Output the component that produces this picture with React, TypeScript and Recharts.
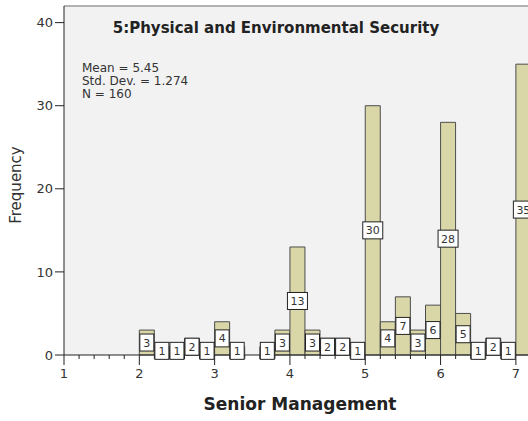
import React from 'react';
import { BarChart, Bar, XAxis, YAxis, CartesianGrid, ReferenceLine, LabelList } from 'recharts';

const binStarts = [
  1.0, 1.2, 1.4, 1.6, 1.8,
  2.0, 2.2, 2.4, 2.6, 2.8,
  3.0, 3.2, 3.4, 3.6, 3.8,
  4.0, 4.2, 4.4, 4.6, 4.8,
  5.0, 5.2, 5.4, 5.6, 5.8,
  6.0, 6.2, 6.4, 6.6, 6.8,
  7.0, 7.2,
];
const frequencies = [
  0, 0, 0, 0, 0,
  3, 1, 1, 2, 1,
  4, 1, 0, 1, 3,
  13, 3, 2, 2, 1,
  30, 4, 7, 3, 6,
  28, 5, 1, 2, 1,
  35, 0,
];
const xTicks = [
  1, 1.2, 1.4, 1.6, 1.8, 2, 2.2, 2.4, 2.6, 2.8, 3, 3.2, 3.4, 3.6, 3.8,
  4, 4.2, 4.4, 4.6, 4.8, 5, 5.2, 5.4, 5.6, 5.8, 6, 6.2, 6.4, 6.6, 6.8, 7, 7.2, 7.4,
];
const yTicks = [0, 10, 20, 30, 40];
const chartTitle = '5:Physical and Environmental Security';
const statLines = ['Mean = 5.45', 'Std. Dev. = 1.274', 'N = 160'];
const xTitle = 'Senior Management';
const yTitle = 'Frequency';

const data = binStarts.map((b, i) => ({ bin: b.toFixed(1), x0: b, count: frequencies[i] }));

const FONT = '"DejaVu Sans", sans-serif';

const XTick = (props: any) => {
  const { x, y, payload } = props;
  const v = payload.value as number;
  const major = Math.abs(v - Math.round(v)) < 1e-6;
  return (
    <g>
      <line x1={x} x2={x} y1={y} y2={y + (major ? 10 : 4)} stroke="#222" strokeWidth={1} />
      {major && (
        <text x={x} y={y + 23} textAnchor="middle" fontSize={13} fill="#333" fontFamily={FONT}>
          {Math.round(v)}
        </text>
      )}
    </g>
  );
};

const BoxLabel = (props: any) => {
  const { x, y, width, height, value } = props;
  if (!value) return null;
  const s = String(value);
  const w = s.length > 1 ? 20 : 14;
  const h = 17;
  const cx = Number(x) + Number(width) / 2;
  const cy = Number(y) + Number(height) / 2;
  return (
    <g>
      <rect x={cx - w / 2} y={cy - h / 2} width={w} height={h} fill="#ffffff" stroke="#222" strokeWidth={1} />
      <text x={cx} y={cy + 4} textAnchor="middle" fontSize={11} fill="#333" fontFamily={FONT}>
        {s}
      </text>
    </g>
  );
};

export default function App() {
  return (
    <div
      style={{
        position: 'absolute',
        left: 0,
        top: 0,
        width: 528,
        height: 421,
        overflow: 'hidden',
        background: '#ffffff',
        fontFamily: FONT,
      }}
    >
      <BarChart
        width={560}
        height={421}
        data={data}
        margin={{ top: 6, right: 14, left: 0, bottom: 0 }}
        barCategoryGap={0}
        barGap={0}
      >
        <CartesianGrid horizontal={false} vertical={false} fill="#f2f2f2" stroke="none" />
        <XAxis xAxisId="bin" dataKey="bin" type="category" hide />
        <XAxis
          dataKey="x0"
          type="number"
          domain={[1, 7.4]}
          allowDataOverflow
          ticks={xTicks}
          interval={0}
          tickSize={0}
          tickMargin={0}
          tickLine={false}
          tick={<XTick />}
          height={66}
          axisLine={{ stroke: '#222', strokeWidth: 1 }}
        />
        <YAxis
          type="number"
          domain={[0, 42]}
          ticks={yTicks}
          width={64}
          tickSize={9}
          tickMargin={2}
          axisLine={{ stroke: '#222', strokeWidth: 1 }}
          tickLine={{ stroke: '#222', strokeWidth: 1 }}
          tick={{ fontSize: 13, fill: '#333', fontFamily: FONT }}
        />
        <ReferenceLine y={42} stroke="#9a9a9a" strokeWidth={1.5} />
        <Bar
          xAxisId="bin"
          dataKey="count"
          fill="#d9d6a7"
          stroke="#4d4d4d"
          strokeWidth={1}
          isAnimationActive={false}
        >
          <LabelList dataKey="count" content={<BoxLabel />} />
        </Bar>
      </BarChart>
      <svg
        width={528}
        height={421}
        style={{ position: 'absolute', left: 0, top: 0, pointerEvents: 'none' }}
      >
        <text x={276} y={33} textAnchor="middle" fontSize={15} fontWeight="bold" fill="#222" fontFamily={FONT}>
          {chartTitle}
        </text>
        {statLines.map((t, i) => (
          <text key={t} x={82} y={71.5 + i * 13} fontSize={12} fill="#333" fontFamily={FONT}>
            {t}
          </text>
        ))}
        <text x={300} y={410} textAnchor="middle" fontSize={17} fontWeight="bold" fill="#222" fontFamily={FONT}>
          {xTitle}
        </text>
        <text
          x={16}
          y={185}
          transform="rotate(-90 16 185)"
          textAnchor="middle"
          dominantBaseline="central"
          fontSize={15}
          fill="#333"
          fontFamily={FONT}
        >
          {yTitle}
        </text>
      </svg>
    </div>
  );
}
